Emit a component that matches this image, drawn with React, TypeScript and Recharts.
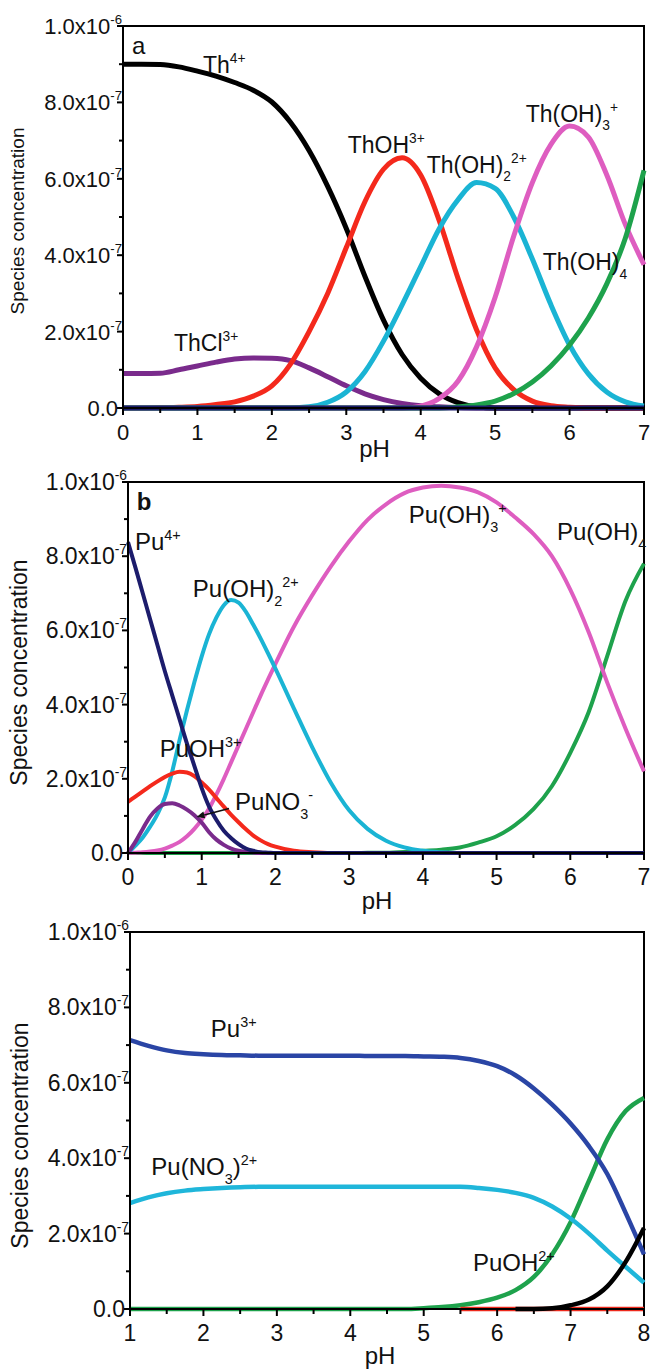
import React from 'react';
import { LineChart, Line, XAxis, YAxis, ReferenceArea, ReferenceDot, ReferenceLine } from 'recharts';

const FONT = '"Liberation Sans", Arial, Helvetica, sans-serif';
// Concentrations below are listed in units of 1e-7 M.
const UNIT = 1e-7;

// ---------- Panel a: Th(IV) speciation, pH 0–7 ----------
const phTh = [0, 0.25, 0.5, 0.75, 1, 1.25, 1.5, 1.75, 2, 2.25, 2.5, 2.75, 3, 3.25, 3.5, 3.75, 4, 4.25, 4.5, 4.75, 5, 5.25, 5.5, 5.75, 6, 6.25, 6.5, 6.75, 7];
const thFree = [9.0, 9.0, 8.99, 8.93, 8.82, 8.69, 8.52, 8.32, 8.01, 7.48, 6.74, 5.8, 4.7, 3.45, 2.3, 1.4, 0.78, 0.37, 0.14, 0.03, 0, 0, 0, 0, 0, 0, 0, 0, 0];
const thCl = [0.9, 0.9, 0.91, 1.0, 1.1, 1.2, 1.28, 1.31, 1.3, 1.24, 1.05, 0.82, 0.58, 0.37, 0.22, 0.12, 0.06, 0.03, 0.01, 0, 0, 0, 0, 0, 0, 0, 0, 0, 0];
const thOH = [0, 0, 0.01, 0.02, 0.04, 0.09, 0.16, 0.31, 0.58, 1.15, 2.0, 3.0, 4.2, 5.4, 6.25, 6.55, 6.1, 4.9, 3.4, 2.05, 1.05, 0.48, 0.18, 0.06, 0.02, 0, 0, 0, 0];
const thOH2 = [0, 0, 0, 0, 0, 0, 0, 0, 0, 0, 0.03, 0.15, 0.42, 0.95, 1.75, 2.7, 3.7, 4.7, 5.45, 5.9, 5.75, 5.0, 3.9, 2.7, 1.65, 0.9, 0.42, 0.16, 0.05];
const thOH3 = [0, 0, 0, 0, 0, 0, 0, 0, 0, 0, 0, 0, 0, 0, 0, 0, 0.05, 0.25, 0.7, 1.6, 2.9, 4.5, 5.9, 6.9, 7.38, 7.1, 6.1, 4.8, 3.75];
const thOH4 = [0, 0, 0, 0, 0, 0, 0, 0, 0, 0, 0, 0, 0, 0, 0, 0, 0, 0, 0.03, 0.08, 0.18, 0.38, 0.68, 1.1, 1.65, 2.35, 3.25, 4.45, 6.22];
const thTrace = [0, 0, 0, 0, 0, 0, 0, 0, 0, 0, 0, 0, 0, 0, 0, 0, 0, 0, 0, 0, 0, 0, 0, 0, 0, 0, 0, 0, 0];

// ---------- Panel b: Pu(IV) speciation, pH 0–7 ----------
const phPu4 = [0, 0.1, 0.2, 0.3, 0.4, 0.5, 0.6, 0.7, 0.8, 0.9, 1.0, 1.1, 1.2, 1.3, 1.4, 1.5, 1.6, 1.7, 1.8, 1.9, 2.0,
  2.25, 2.5, 2.75, 3, 3.25, 3.5, 3.75, 4, 4.25, 4.5, 4.75, 5, 5.25, 5.5, 5.75, 6, 6.25, 6.5, 6.75, 7];
const puFree4 = [8.38, 7.7, 7.0, 6.3, 5.6, 4.9, 4.25, 3.6, 2.95, 2.35, 1.75, 1.25, 0.89, 0.6, 0.4, 0.24, 0.12, 0.06, 0.02, 0.01, 0,
  0, 0, 0, 0, 0, 0, 0, 0, 0, 0, 0, 0, 0, 0, 0, 0, 0, 0, 0, 0];
const puOH3 = [1.38, 1.52, 1.66, 1.8, 1.93, 2.05, 2.14, 2.19, 2.17, 2.07, 1.9, 1.71, 1.48, 1.25, 1.03, 0.83, 0.64, 0.47, 0.34, 0.24, 0.17,
  0.06, 0.02, 0, 0, 0, 0, 0, 0, 0, 0, 0, 0, 0, 0, 0, 0, 0, 0, 0, 0];
const puNO3 = [0, 0.3, 0.65, 0.98, 1.2, 1.32, 1.34, 1.28, 1.17, 1.02, 0.82, 0.56, 0.36, 0.22, 0.12, 0.06, 0.03, 0.01, 0, 0, 0,
  0, 0, 0, 0, 0, 0, 0, 0, 0, 0, 0, 0, 0, 0, 0, 0, 0, 0, 0, 0];
const puOH2 = [0, 0.2, 0.42, 0.71, 1.05, 1.5, 2.2, 3.05, 3.85, 4.6, 5.3, 5.9, 6.35, 6.68, 6.82, 6.75, 6.5, 6.15, 5.78, 5.38, 4.97,
  3.9, 2.85, 1.9, 1.15, 0.65, 0.33, 0.15, 0.06, 0.02, 0, 0, 0, 0, 0, 0, 0, 0, 0, 0, 0];
const puOH3p = [0, 0.01, 0.02, 0.04, 0.07, 0.12, 0.2, 0.3, 0.45, 0.65, 0.9, 1.2, 1.58, 2.0, 2.45, 2.9, 3.35, 3.8, 4.25, 4.68, 5.1,
  6.1, 6.95, 7.72, 8.4, 8.98, 9.4, 9.7, 9.85, 9.9, 9.85, 9.72, 9.45, 9.05, 8.6, 8.0, 7.1, 5.95, 4.6, 3.35, 2.2];
const puOH4 = [0, 0, 0, 0, 0, 0, 0, 0, 0, 0, 0, 0, 0, 0, 0, 0, 0, 0, 0, 0, 0,
  0, 0, 0, 0, 0.005, 0.01, 0.03, 0.06, 0.09, 0.15, 0.28, 0.45, 0.75, 1.18, 1.8, 2.7, 3.8, 5.3, 6.8, 7.8];

// ---------- Panel c: Pu(III) speciation, pH 1–8 ----------
const phPu3 = [1, 1.25, 1.5, 1.75, 2, 2.25, 2.5, 2.75, 3, 3.25, 3.5, 3.75, 4, 4.25, 4.5, 4.75, 5, 5.25, 5.5, 5.75, 6, 6.25, 6.5, 6.75, 7, 7.25, 7.5, 7.75, 8];
const pu3Free = [7.13, 6.98, 6.86, 6.79, 6.76, 6.74, 6.73, 6.72, 6.72, 6.72, 6.72, 6.72, 6.72, 6.71, 6.71, 6.71, 6.7, 6.69, 6.66, 6.58, 6.44, 6.2, 5.85, 5.42, 4.92, 4.32, 3.58, 2.55, 1.45];
const pu3NO3 = [2.81, 2.96, 3.07, 3.14, 3.18, 3.21, 3.23, 3.24, 3.24, 3.24, 3.24, 3.24, 3.24, 3.24, 3.24, 3.24, 3.24, 3.24, 3.24, 3.21, 3.16, 3.08, 2.95, 2.72, 2.4, 2.0, 1.55, 1.12, 0.7];
const pu3OH = [0, 0, 0, 0, 0, 0, 0, 0, 0, 0, 0, 0, 0, 0, 0, 0, 0.02, 0.05, 0.1, 0.18, 0.3, 0.5, 0.85, 1.45, 2.3, 3.4, 4.5, 5.25, 5.6];
const pu3OH2 = [null, null, null, null, null, null, null, null, null, null, null, null, null, null, null, null, null, null, null, null, null, 0, 0, 0.02, 0.1, 0.25, 0.6, 1.25, 2.15];
const pu3Minor = [null, null, null, null, null, null, null, null, null, null, null, null, null, null, null, null, null, null, 0, 0, 0, 0, 0, 0, 0, 0, 0, 0, 0];

const yTicks = [0, 1, 2, 3, 4, 5, 6, 7, 8, 9, 10].map((n) => n * UNIT);
const xTicks07 = [0, 0.5, 1, 1.5, 2, 2.5, 3, 3.5, 4, 4.5, 5, 5.5, 6, 6.5, 7];
const xTicks18 = [1, 1.5, 2, 2.5, 3, 3.5, 4, 4.5, 5, 5.5, 6, 6.5, 7, 7.5, 8];

type Series = { key: string; values: (number | null)[]; color: string };

function buildRows(ph: number[], series: Series[]) {
  return ph.map((p, i) => {
    const row: Record<string, number | null> = { ph: p };
    series.forEach((s) => {
      const v = s.values[i];
      row[s.key] = v == null ? null : v * UNIT;
    });
    return row;
  });
}

const seriesA: Series[] = [
  { key: 'ThCl', values: thCl, color: '#7a2b8c' },
  { key: 'Th', values: thFree, color: '#000000' },
  { key: 'ThOH', values: thOH, color: '#f4291c' },
  { key: 'ThOH2', values: thOH2, color: '#1ab4d4' },
  { key: 'ThOH3', values: thOH3, color: '#de5dc0' },
  { key: 'ThOH4', values: thOH4, color: '#1ea24c' },
  { key: 'trace', values: thTrace, color: '#1c1c6c' },
];
const seriesB: Series[] = [
  { key: 'PuOH4', values: puOH4, color: '#1ea24c' },
  { key: 'PuOH3', values: puOH3p, color: '#de5dc0' },
  { key: 'PuOH2', values: puOH2, color: '#1ab4d4' },
  { key: 'PuOH', values: puOH3, color: '#f4291c' },
  { key: 'PuNO3', values: puNO3, color: '#7a2b8c' },
  { key: 'Pu4', values: puFree4, color: '#1c1c6c' },
];
const seriesC: Series[] = [
  { key: 'PuOHc', values: pu3OH, color: '#1ea24c' },
  { key: 'PuNO3c', values: pu3NO3, color: '#1fb6da' },
  { key: 'Pu3', values: pu3Free, color: '#2a45a5' },
  { key: 'minor', values: pu3Minor, color: '#ee2a1c' },
  { key: 'PuOH2c', values: pu3OH2, color: '#000000' },
];

const rowsA = buildRows(phTh, seriesA);
const rowsB = buildRows(phPu4, seriesB);
const rowsC = buildRows(phPu3, seriesC);

// Y ticks: major every 2e-7 with "m.0x10^e" labels, minor ticks in between
const YTick = (props: any) => {
  const { x, y, payload, size } = props;
  const n = Math.round(payload.value / UNIT);
  const major = n % 2 === 0;
  let label: React.ReactNode = null;
  if (major) {
    if (n === 0) {
      label = (
        <text x={x - 5} y={y + 8} textAnchor="end" fontFamily={FONT} fontSize={size} fill="#111">0.0</text>
      );
    } else {
      const mant = n === 10 ? '1.0' : n.toFixed(1);
      const exp = n === 10 ? '-6' : '-7';
      label = (
        <text x={x - 1} y={y + 8} textAnchor="end" fontFamily={FONT} fontSize={size} fill="#111">
          <tspan>{mant}x10</tspan>
          <tspan dy={-10} fontSize={size * 0.6}>{exp}</tspan>
        </text>
      );
    }
  }
  return (
    <g>
      <line x1={x - (major ? 6 : 4)} x2={x} y1={y} y2={y} stroke="#000" strokeWidth={2} />
      {label}
    </g>
  );
};

const XTick = (props: any) => {
  const { x, y, payload, size } = props;
  const v = payload.value as number;
  const major = Math.abs(v - Math.round(v)) < 1e-6;
  return (
    <g>
      <line x1={x} x2={x} y1={y} y2={y + (major ? 7 : 5)} stroke="#000" strokeWidth={2} />
      {major && (
        <text x={x} y={y + 32} textAnchor="middle" fontFamily={FONT} fontSize={size} fill="#111">{String(v)}</text>
      )}
    </g>
  );
};

const XTitle = (props: any) => {
  const vb = props.viewBox || { x: 0, y: 0, width: 0, height: 0 };
  return (
    <text x={vb.x + vb.width / 2 + props.dx} y={vb.y + props.dy} textAnchor="middle" fontFamily={FONT} fontSize={24} fill="#111">
      pH
    </text>
  );
};

const YTitle = (props: any) => {
  const vb = props.viewBox || { x: 0, y: 0, width: 0, height: 0 };
  const cx = props.cx;
  const cy = vb.y + vb.height / 2 + props.dy;
  return (
    <text x={cx} y={cy} transform={`rotate(-90 ${cx} ${cy})`} textAnchor="middle" dominantBaseline="central"
      fontFamily={FONT} fontSize={props.size} fill="#111">
      Species concentration
    </text>
  );
};

type Part = [string, 'n' | 'sub' | 'sup'];

const Formula = (props: any) => {
  const vb = props.viewBox || { x: 0, y: 0 };
  const size: number = props.size;
  const parts: Part[] = props.parts;
  let shift = 0;
  const spans = parts.map(([t, k], i) => {
    const target = k === 'sup' ? -0.42 * size : k === 'sub' ? 0.36 * size : 0;
    const dy = target - shift;
    shift = target;
    return (
      <tspan key={i} dy={dy} fontSize={k === 'n' ? size : size * 0.6}>{t}</tspan>
    );
  });
  return (
    <text x={vb.x} y={vb.y} fontFamily={FONT} fontSize={size} fontWeight={props.bold ? 'bold' : 'normal'} fill="#111">
      {spans}
    </text>
  );
};

const Tag = ({ x, y, parts, size, bold }: { x: number; y: number; parts: Part[]; size: number; bold?: boolean }) => (
  <ReferenceDot x={x} y={y * UNIT} r={0} fill="none" stroke="none" ifOverflow="visible"
    label={<Formula parts={parts} size={size} bold={bold} />} />
);

const Arrow = (props: any) => {
  const { x1, y1, x2, y2 } = props;
  const ang = Math.atan2(y2 - y1, x2 - x1);
  const L = 8;
  const W = 3.5;
  const bx = x2 - L * Math.cos(ang);
  const by = y2 - L * Math.sin(ang);
  const px = -Math.sin(ang) * W;
  const py = Math.cos(ang) * W;
  return (
    <g>
      <line x1={x1} y1={y1} x2={bx} y2={by} stroke="#111" strokeWidth={1.6} />
      <polygon points={`${x2},${y2} ${bx + px},${by + py} ${bx - px},${by - py}`} fill="#111" />
    </g>
  );
};

function renderLines(series: Series[], width: number) {
  return series.map((s) => (
    <Line key={s.key} dataKey={s.key} type="monotone" stroke={s.color} strokeWidth={width}
      dot={false} activeDot={false} isAnimationActive={false} connectNulls={false} />
  ));
}

const PanelA = () => (
  <LineChart width={650} height={470} data={rowsA} margin={{ top: 26, right: 6, bottom: 0, left: 0 }}>
    <XAxis dataKey="ph" type="number" domain={[0, 7]} ticks={xTicks07} interval={0} height={62}
      tickSize={0} tickMargin={0} tickLine={false} axisLine={{ stroke: '#000', strokeWidth: 2 }}
      tick={<XTick size={22} />} label={<XTitle dx={-9} dy={49} />} />
    <YAxis type="number" domain={[0, 10 * UNIT]} ticks={yTicks} interval={0} width={123}
      tickSize={0} tickMargin={0} tickLine={false} axisLine={{ stroke: '#000', strokeWidth: 2 }}
      tick={<YTick size={22} />} label={<YTitle cx={17} dy={4} size={19} />} />
    <ReferenceArea x1={0} x2={7} y1={0} y2={10 * UNIT} fill="none" stroke="#000" strokeWidth={2} ifOverflow="visible" />
    {renderLines(seriesA, 5)}
    <Tag x={0.12} y={9.27} size={24} parts={[['a', 'n']]} />
    <Tag x={1.075} y={8.77} size={23} parts={[['Th', 'n'], ['4+', 'sup']]} />
    <Tag x={3.02} y={6.68} size={23} parts={[['ThOH', 'n'], ['3+', 'sup']]} />
    <Tag x={4.08} y={6.15} size={23} parts={[['Th(OH)', 'n'], ['2', 'sub'], ['2+', 'sup']]} />
    <Tag x={5.41} y={7.5} size={23} parts={[['Th(OH)', 'n'], ['3', 'sub'], ['+', 'sup']]} />
    <Tag x={5.64} y={3.6} size={23} parts={[['Th(OH)', 'n'], ['4', 'sub']]} />
    <Tag x={0.685} y={1.49} size={23} parts={[['ThCl', 'n'], ['3+', 'sup']]} />
  </LineChart>
);

const PanelB = () => (
  <LineChart width={650} height={465} data={rowsB} margin={{ top: 27, right: 6, bottom: 0, left: 0 }}>
    <XAxis dataKey="ph" type="number" domain={[0, 7]} ticks={xTicks07} interval={0} height={67}
      tickSize={0} tickMargin={0} tickLine={false} axisLine={{ stroke: '#000', strokeWidth: 2 }}
      tick={<XTick size={23} />} label={<XTitle dx={-9} dy={56} />} />
    <YAxis type="number" domain={[0, 10 * UNIT]} ticks={yTicks} interval={0} width={128}
      tickSize={0} tickMargin={0} tickLine={false} axisLine={{ stroke: '#000', strokeWidth: 2 }}
      tick={<YTick size={23} />} label={<YTitle cx={19} dy={5} size={23} />} />
    <ReferenceArea x1={0} x2={7} y1={0} y2={10 * UNIT} fill="none" stroke="#000" strokeWidth={2} ifOverflow="visible" />
    {renderLines(seriesB, 4)}
    <ReferenceLine segment={[{ x: 1.37, y: 1.2 * UNIT }, { x: 0.93, y: 0.97 * UNIT }]} ifOverflow="visible" shape={<Arrow />} />
    <Tag x={0.12} y={9.25} size={24} bold parts={[['b', 'n']]} />
    <Tag x={0.095} y={8.17} size={24} parts={[['Pu', 'n'], ['4+', 'sup']]} />
    <Tag x={0.88} y={6.9} size={24} parts={[['Pu(OH)', 'n'], ['2', 'sub'], ['2+', 'sup']]} />
    <Tag x={3.81} y={8.89} size={24} parts={[['Pu(OH)', 'n'], ['3', 'sub'], ['+', 'sup']]} />
    <Tag x={5.82} y={8.44} size={24} parts={[['Pu(OH)', 'n'], ['4', 'sub']]} />
    <Tag x={0.43} y={2.59} size={24} parts={[['PuOH', 'n'], ['3+', 'sup']]} />
    <Tag x={1.45} y={1.16} size={24} parts={[['PuNO', 'n'], ['3', 'sub'], ['-', 'sup']]} />
  </LineChart>
);

const PanelC = () => (
  <LineChart width={650} height={465} data={rowsC} margin={{ top: 27, right: 6, bottom: 0, left: 0 }}>
    <XAxis dataKey="ph" type="number" domain={[1, 8]} ticks={xTicks18} interval={0} height={61}
      tickSize={0} tickMargin={0} tickLine={false} axisLine={{ stroke: '#000', strokeWidth: 2 }}
      tick={<XTick size={23} />} label={<XTitle dx={-7} dy={55} />} />
    <YAxis type="number" domain={[0, 10 * UNIT]} ticks={yTicks} interval={0} width={130}
      tickSize={0} tickMargin={0} tickLine={false} axisLine={{ stroke: '#000', strokeWidth: 2 }}
      tick={<YTick size={23} />} label={<YTitle cx={20} dy={15} size={23} />} />
    <ReferenceArea x1={1} x2={8} y1={0} y2={10 * UNIT} fill="none" stroke="#000" strokeWidth={2} ifOverflow="visible" />
    {renderLines(seriesC, 4.5)}
    <Tag x={2.1} y={7.21} size={24} parts={[['Pu', 'n'], ['3+', 'sup']]} />
    <Tag x={1.29} y={3.55} size={24} parts={[['Pu(NO', 'n'], ['3', 'sub'], [')', 'n'], ['2+', 'sup']]} />
    <Tag x={5.67} y={1.0} size={24} parts={[['PuOH', 'n'], ['2+', 'sup']]} />
  </LineChart>
);

export default function App() {
  return (
    <div style={{ position: 'absolute', left: 0, top: 0, width: 650, height: 1370, background: '#ffffff', overflow: 'hidden' }}>
      <div style={{ position: 'absolute', left: 0, top: 0 }}>
        <PanelA />
      </div>
      <div style={{ position: 'absolute', left: 0, top: 455 }}>
        <PanelB />
      </div>
      <div style={{ position: 'absolute', left: 0, top: 905 }}>
        <PanelC />
      </div>
    </div>
  );
}
